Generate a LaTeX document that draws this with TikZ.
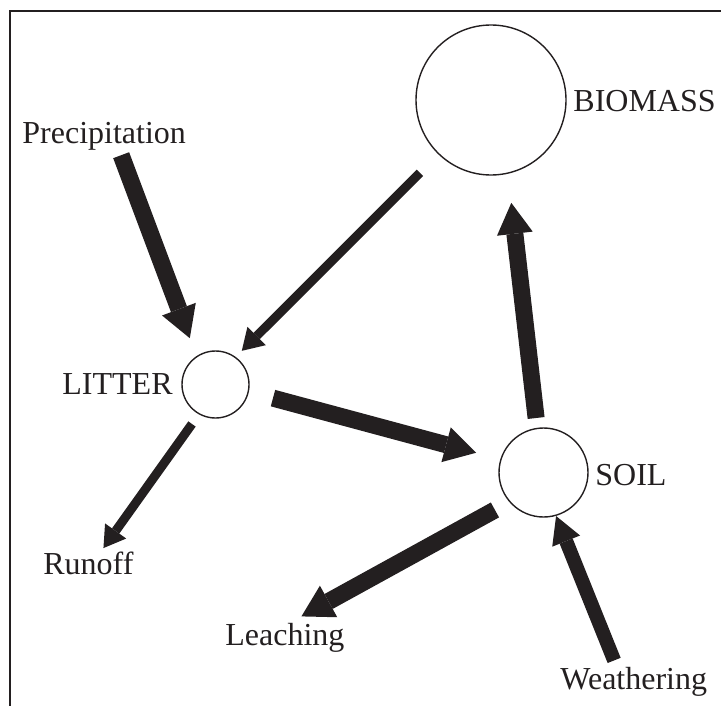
\documentclass[tikz,border=0pt]{standalone}
\usepackage{fontspec}
\setmainfont{Liberation Serif}
\usetikzlibrary{arrows.meta}
\definecolor{ink}{RGB}{35,31,32}
\tikzset{
  pool/.style={circle, draw=ink, line width=0.7pt, inner sep=0pt, outer sep=0pt},
  tag/.style={text=ink, inner sep=0pt, anchor=base west, font=\fontsize{16pt}{19pt}\selectfont},
  flow/.style={draw=ink, line width=8.5pt, -{Triangle[length=15.5pt, width=18pt, line width=0pt]}},
  midflow/.style={draw=ink, line width=7pt, -{Triangle[length=13.5pt, width=15pt, line width=0pt]}},
  thinflow/.style={draw=ink, line width=4.5pt, -{Triangle[length=10.5pt, width=13pt, line width=0pt]}}
}
\begin{document}
\begin{tikzpicture}[x=0.5pt, y=-0.5pt]
\useasboundingbox (0,0) rectangle (721,706);
\draw[ink, line width=1pt] (721,11) -- (10,11) -- (10,706);

% pools
\node[pool, minimum size=75pt] (bio) at (491,100) {};
\node[pool, minimum size=33.5pt] (litter) at (215.5,384.5) {};
\node[pool, minimum size=44.5pt] (soil) at (543.5,472.5) {};

% labels
\node[tag] (biolbl) at (573,112) {BIOMASS};
\node[tag] (litterlbl) at (62,394) {LITTER};
\node[tag] (soillbl) at (595,485) {SOIL};
\node[tag] (prec) at (22,143) {Precipitation};
\node[tag] (runoff) at (43,574) {Runoff};
\node[tag] (leach) at (225,645) {Leaching};
\node[tag] (weath) at (560,689) {Weathering};

% fluxes
\draw[flow, shorten >=9.9pt] ([shift={(17,5)}]prec.south) -- (litter.124);
\draw[thinflow, shorten <=13.4pt, shorten >=4.65pt] (bio.226) -- (litter.54);
\draw[flow, shorten <=12.8pt, shorten >=12.9pt] (litter.-12) -- (soil.163);
\draw[flow, shorten <=5.25pt, shorten >=15pt] (soil.98) -- (bio.-77);
\draw[thinflow, shorten <=6.25pt] (litter.-119) -- ([shift={(15,-3)}]runoff.north);
\draw[flow, shorten <=8.55pt] (soil.-139) -- ([shift={(16.5,-6)}]leach.north);
\draw[midflow, shorten >=0.4pt] ([shift={(-19.6,-6)}]weath.north) -- (soil.-74);
\end{tikzpicture}
\end{document}
